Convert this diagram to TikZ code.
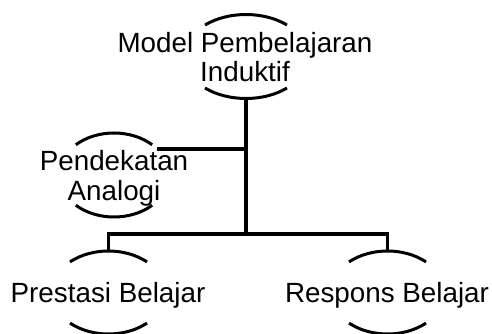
\documentclass[tikz,border=0pt]{standalone}
\usepackage{fontspec}
\setmainfont{Liberation Sans}
\usetikzlibrary{shapes.geometric}
\newcommand\ellarcs[4]{% node, a, b, t
  \draw[arcline] (#1.center) ++(#4:#2pt and #3pt) arc[start angle=#4, end angle=180-#4, x radius=#2pt, y radius=#3pt];
  \draw[arcline] (#1.center) ++(180+#4:#2pt and #3pt) arc[start angle=180+#4, end angle=360-#4, x radius=#2pt, y radius=#3pt];
}
\begin{document}
\begin{tikzpicture}[x=1pt,y=-1pt,
  lbl/.style={font=\fontsize{27.8}{29.5}\selectfont, align=center, inner sep=0pt, anchor=base},
  ell/.style 2 args={ellipse, draw=none, minimum width=#1, minimum height=#2, inner sep=0pt},
  arcline/.style={line width=3pt},
  conn/.style={line width=3.6pt}]
\useasboundingbox (0,0) rectangle (492,334);
% ellipse frames
\node[ell={124pt}{84pt}] (topE) at (246,56.5) {};
\node[ell={110pt}{84pt}] (midE) at (114,175) {};
\node[ell={114pt}{83pt}] (leftE) at (108.5,292.5) {};
\node[ell={114pt}{83pt}] (rightE) at (387.5,292.5) {};
\coordinate (hub) at (246,234);
% texts (base = last line baseline)
\node[lbl] (topT) at (245,82) {Model Pembelajaran\\Induktif};
\node[lbl] (midT) at (114,200) {Pendekatan\\Analogi};
\node[lbl] (leftT) at (108,302.5) {Prestasi Belajar};
\node[lbl] (rightT) at (387,302.5) {Respons Belajar};
% arcs
\ellarcs{topE}{62}{42}{48.6}
\ellarcs{midE}{55}{42}{46}
\ellarcs{leftE}{57}{41.5}{47.5}
\ellarcs{rightE}{57}{41.5}{47.5}
% connectors
\draw[conn] (topE.south) -- (hub);
\draw[conn] (leftE.north) |- (hub) -| (rightE.north);
\draw[conn] (midE.31) -- (midE.31 -| hub);
\end{tikzpicture}
\end{document}
